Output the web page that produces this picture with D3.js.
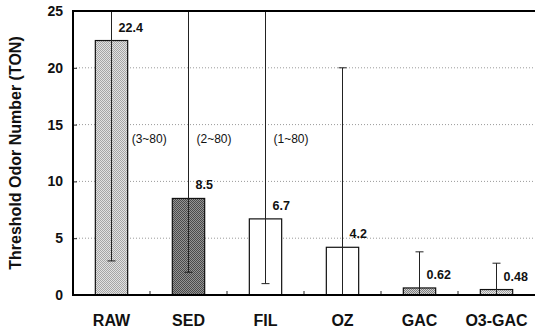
<!DOCTYPE html>
<html>
<head>
<meta charset="utf-8">
<script src="https://cdn.jsdelivr.net/npm/d3@7"></script>
<style>
  body { margin: 0; background: #fff; }
  svg { display: block; font-family: "Liberation Sans", Arial, sans-serif; }
</style>
</head>
<body>
<svg></svg>
<script>
// data
const categories = ["RAW", "SED", "FIL", "OZ", "GAC", "O3-GAC"];
const means = [22.4, 8.5, 6.7, 4.2, 0.62, 0.48];
const lows = [3, 2, 1, 0, 0, 0];
const highs = [80, 80, 80, 20, 3.8, 2.8];
const yTicks = [0, 5, 10, 15, 20, 25];
const fills = ["url(#p-raw)", "url(#p-sed)", "#fff", "#fff", "url(#p-gac)", "url(#p-o3)"];

const width = 535;
const height = 333;
const margin = { top: 11, right: 0, bottom: 38, left: 73 };

const svg = d3.select("svg")
    .attr("width", width)
    .attr("height", height);

// checkerboard "halftone" for the shaded bars
const defs = svg.append("defs");
function pattern(id, light, dark) {
    const p = defs.append("pattern")
        .attr("id", id)
        .attr("width", 2).attr("height", 2)
        .attr("patternUnits", "userSpaceOnUse");
    p.append("rect").attr("width", 2).attr("height", 2).attr("fill", light);
    p.append("rect").attr("x", 0).attr("y", 0).attr("width", 1).attr("height", 1).attr("fill", dark);
    p.append("rect").attr("x", 1).attr("y", 1).attr("width", 1).attr("height", 1).attr("fill", dark);
}
pattern("p-raw", "#e2e2e2", "#a6a6a6");
pattern("p-sed", "#949494", "#4a4a4a");
pattern("p-gac", "#d0d0d0", "#808080");
pattern("p-o3", "#e6e6e6", "#a0a0a0");

const x = d3.scaleBand()
    .domain(categories)
    .range([margin.left, width - margin.right])
    .paddingInner(0.58)
    .paddingOuter(0.29);

const y = d3.scaleLinear()
    .domain([0, 25])
    .range([height - margin.bottom, margin.top]);

const rows = categories.map((c, i) => ({ cat: c, mean: means[i], lo: lows[i], hi: highs[i], fill: fills[i] }));
const cx = d => x(d.cat) + x.bandwidth() / 2;

// dotted gridlines
svg.append("g")
    .selectAll("line")
    .data(yTicks.filter(t => t > 0 && t < 25))
    .join("line")
    .attr("x1", margin.left).attr("x2", width - margin.right)
    .attr("y1", d => y(d)).attr("y2", d => y(d))
    .attr("stroke", "#9a9a9a")
    .attr("stroke-width", 1)
    .attr("stroke-dasharray", "1,2");

// bars
svg.append("g")
    .selectAll("rect")
    .data(rows)
    .join("rect")
    .attr("x", d => x(d.cat))
    .attr("width", x.bandwidth())
    .attr("y", d => y(d.mean))
    .attr("height", d => y(0) - y(d.mean))
    .attr("fill", d => d.fill)
    .attr("stroke", "#111")
    .attr("stroke-width", 1.2);

// error bars (clipped at the top of the frame)
const yMax = y.domain()[1];
const eb = svg.append("g").attr("stroke", "#222").attr("stroke-width", 1);
eb.selectAll("line.v")
    .data(rows)
    .join("line")
    .attr("class", "v")
    .attr("x1", cx).attr("x2", cx)
    .attr("y1", d => y(d.lo))
    .attr("y2", d => y(Math.min(d.hi, yMax)));
eb.selectAll("line.hi")
    .data(rows.filter(d => d.hi <= yMax))
    .join("line")
    .attr("class", "hi")
    .attr("x1", d => cx(d) - 4).attr("x2", d => cx(d) + 4)
    .attr("y1", d => y(d.hi)).attr("y2", d => y(d.hi));
eb.selectAll("line.lo")
    .data(rows.filter(d => d.lo > 0))
    .join("line")
    .attr("class", "lo")
    .attr("x1", d => cx(d) - 4).attr("x2", d => cx(d) + 4)
    .attr("y1", d => y(d.lo)).attr("y2", d => y(d.lo));

// value labels
svg.append("g")
    .selectAll("text")
    .data(rows)
    .join("text")
    .attr("x", d => cx(d) + 7)
    .attr("y", d => y(d.mean) - 9)
    .attr("font-size", 12.5)
    .attr("font-weight", "bold")
    .attr("fill", "#111")
    .text(d => d.mean);

// range labels for the bars whose upper end runs off the chart
svg.append("g")
    .selectAll("text")
    .data(rows.filter(d => d.hi > yMax))
    .join("text")
    .attr("x", d => d.mean > 12 ? x(d.cat) + x.bandwidth() + 4 : cx(d) + 8)
    .attr("y", 143)
    .attr("font-size", 12)
    .attr("fill", "#111")
    .text(d => `(${d.lo}~${d.hi})`);

// y axis
const yAxis = svg.append("g")
    .attr("transform", `translate(${margin.left},0)`)
    .call(d3.axisLeft(y).tickValues(yTicks).tickSizeInner(-4).tickSizeOuter(0).tickPadding(10));
yAxis.select(".domain").remove();
yAxis.selectAll("text").attr("font-size", 14).attr("font-weight", "bold").attr("fill", "#111")
    .attr("font-family", "'Liberation Sans', Arial, sans-serif");
yAxis.selectAll("line").attr("stroke", "#222");

// x axis
const xAxis = svg.append("g")
    .attr("transform", `translate(0,${y(0)})`)
    .call(d3.axisBottom(x).tickSize(0).tickPadding(20));
xAxis.select(".domain").remove();
xAxis.selectAll("text").attr("font-size", 16).attr("font-weight", "bold").attr("fill", "#111")
    .attr("font-family", "'Liberation Sans', Arial, sans-serif");

// small ticks between categories
svg.append("g")
    .selectAll("line")
    .data(categories.slice(1))
    .join("line")
    .attr("x1", d => x(d) - x.step() * x.paddingInner() / 2)
    .attr("x2", d => x(d) - x.step() * x.paddingInner() / 2)
    .attr("y1", y(0)).attr("y2", y(0) - 4)
    .attr("stroke", "#222");

// frame: left, bottom, top
const frame = svg.append("g").attr("stroke", "#000").attr("stroke-width", 2).attr("fill", "none");
frame.append("path")
    .attr("d", `M${width - margin.right},${y(25)}H${margin.left}V${y(0)}H${width - margin.right}`);

// y title
svg.append("text")
    .attr("transform", `translate(21,${(y(0) + y(25)) / 2}) rotate(-90)`)
    .attr("text-anchor", "middle")
    .attr("font-size", 16)
    .attr("font-weight", "bold")
    .attr("fill", "#111")
    .text("Threshold Odor Number (TON)");
</script>
</body>
</html>
